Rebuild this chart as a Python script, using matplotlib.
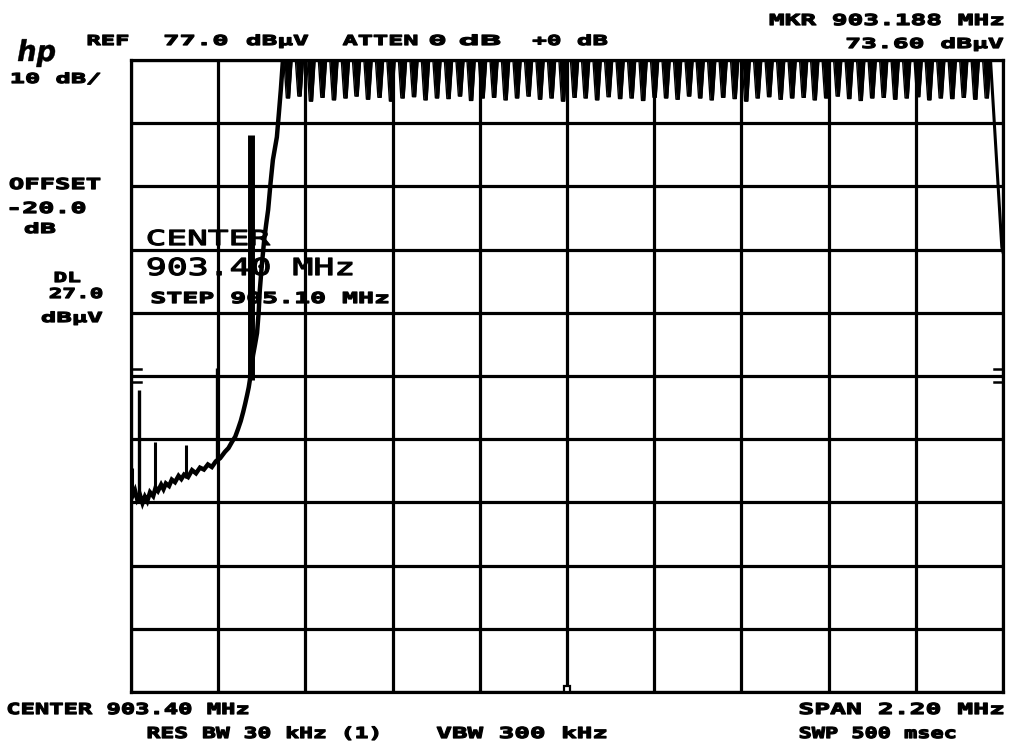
import numpy as np
import matplotlib
matplotlib.use('Agg')
import matplotlib.pyplot as plt
import matplotlib.patheffects as pe
from matplotlib.transforms import Affine2D

W, H = 1009, 742

# --- analyser settings
ref_level = 77.0      # dBuV, top graticule line
db_per_div = 10.0
center_mhz = 903.40
span_mhz = 2.20
dl_level = 27.0

# --- noise floor and rising skirt (MHz, dBuV)
floor_freq = [902.300, 902.305, 902.310, 902.316, 902.323, 902.329, 902.335,
              902.341, 902.348, 902.356, 902.362, 902.368, 902.376, 902.382,
              902.388, 902.396, 902.403, 902.411, 902.420, 902.427, 902.434,
              902.444, 902.454, 902.464, 902.474, 902.484, 902.494, 902.504,
              902.514, 902.525, 902.537, 902.546, 902.555, 902.563, 902.570,
              902.577, 902.583, 902.588, 902.593, 902.597, 902.600, 902.604,
              902.608, 902.613, 902.618, 902.622, 902.625, 902.630, 902.636,
              902.641, 902.646, 902.652, 902.658, 902.663, 902.668, 902.673,
              902.678, 902.683]
floor_level = [9.6, 8.2, 8.9, 7.4, 8.1, 6.9, 7.9, 7.2, 8.6, 8.0, 9.3, 8.8,
               9.8, 9.1, 10.0, 9.6, 10.6, 10.2, 11.2, 10.7, 11.4, 11.0, 12.1,
               11.6, 12.5, 12.2, 13.0, 12.6, 13.5, 14.0, 15.0, 15.6, 16.6,
               17.4, 18.6, 19.9, 21.3, 22.6, 24.0, 25.2, 26.4, 28.3, 30.3,
               32.0, 33.8, 37.0, 40.6, 44.5, 48.5, 51.0, 53.3, 57.5, 61.2,
               63.0, 64.8, 68.5, 72.3, 76.7]

# --- discrete spurs below the band edge
spur_freq = [902.303, 902.320, 902.361, 902.439, 902.517, 902.603]
spur_base = [9.0, 7.7, 9.0, 10.9, 13.4, 26.4]
spur_top = [12.5, 24.8, 16.6, 16.1, 28.3, 65.1]
spur_width = [2.2, 2.4, 2.2, 2.2, 2.4, 5.0]

# --- in-band channel comb: dip centres and dip levels
comb_freq = [902.696, 902.725, 902.754, 902.783, 902.812, 902.841, 902.869,
             902.898, 902.927, 902.956, 902.985, 903.014, 903.043, 903.072,
             903.101, 903.130, 903.158, 903.187, 903.216, 903.245, 903.274,
             903.303, 903.332, 903.361, 903.390, 903.419, 903.447, 903.476,
             903.505, 903.534, 903.563, 903.592, 903.621, 903.650, 903.679,
             903.708, 903.736, 903.765, 903.794, 903.823, 903.852, 903.881,
             903.910, 903.939, 903.968, 903.997, 904.025, 904.054, 904.083,
             904.112, 904.141, 904.170, 904.199, 904.228, 904.257, 904.286,
             904.314, 904.343, 904.372, 904.401, 904.430, 904.459]
comb_dip = [71.0, 71.3, 70.5, 71.1, 70.7, 71.0, 71.3, 70.8, 71.1, 70.5,
            71.0, 71.2, 70.7, 71.0, 70.9, 71.3, 70.6, 71.0, 71.1, 70.7,
            71.0, 71.3, 70.8, 71.0, 70.5, 71.1, 71.0, 70.7, 71.2, 70.9,
            71.0, 70.6, 71.1, 71.0, 70.8, 71.3, 71.0, 70.7, 71.1, 70.9,
            70.5, 71.0, 71.2, 70.8, 71.0, 71.1, 70.7, 71.0, 71.3, 70.9,
            70.6, 71.0, 71.1, 70.8, 71.0, 71.2, 70.7, 71.0, 70.9, 71.1,
            70.8, 71.0]

# --- upper band edge
edge_freq = [904.468, 904.497, 904.500]
edge_level = [77.5, 47.4, 46.6]


class FitWidth(pe.AbstractPathEffect):
    """ stretch a text path sideways so the ink runs from x0 to x1 (pixels),
    with a thin outline to fatten the strokes """

    def __init__(self, x0, x1, lw):
        super().__init__()
        self.x0, self.x1, self.lw = x0, x1, lw

    def draw_path(self, renderer, gc, tpath, affine, rgbFace=None):
        ext = tpath.get_extents(affine)
        sx = (self.x1 - self.x0) / max(ext.width, 1e-6)
        t = affine + Affine2D().translate(-ext.x0, 0).scale(sx, 1).translate(self.x0, 0)
        gc0 = renderer.new_gc()
        gc0.copy_properties(gc)
        gc0.set_linewidth(self.lw)
        gc0.set_foreground('k')
        renderer.draw_path(gc0, tpath, t, rgbFace)
        gc0.restore()


def crt_text(target, s, x0, x1, base, cap, weight='bold',
             family='DejaVu Sans Mono', style='normal', lw=0.9, zorder=3):
    """ place a label so its caps are `cap` px tall on baseline `base` """
    size_px = cap / 0.729
    target.text(x0 / W, 1 - base / H, s, transform=fig.transFigure,
                fontsize=size_px * 72 / 100, fontweight=weight, family=family,
                style=style, ha='left', va='baseline', color='k',
                path_effects=[FitWidth(x0, x1, lw)], zorder=zorder)


fig = plt.figure(figsize=(W / 100, H / 100), dpi=100)
fig.patch.set_facecolor('white')
ax = fig.add_axes((131 / W, 50 / H, 872 / W, 632 / H))

f0 = center_mhz - span_mhz / 2
f1 = center_mhz + span_mhz / 2
bottom = ref_level - 10 * db_per_div
ax.set_xlim(f0, f1)
ax.set_ylim(bottom, ref_level)
ax.set_xticks(np.linspace(f0, f1, 11))
ax.set_yticks(np.linspace(bottom, ref_level, 11))
ax.grid(True, color='k', lw=2.3)
ax.tick_params(length=0, labelbottom=False, labelleft=False)
for sp in ax.spines.values():
    sp.set_linewidth(2.3)

# --- trace
ax.plot(floor_freq, floor_level, color='k', lw=3.2, zorder=4,
        solid_joinstyle='miter')
ax.vlines(spur_freq, spur_base, spur_top, colors='k', lw=spur_width, zorder=4)

top = ref_level + 2
cx, cy = [floor_freq[-1]], [top]
for f, d in zip(comb_freq, comb_dip):
    cx += [f - 0.0125, f - 0.004, f + 0.004, f + 0.0125]
    cy += [top, d, d, top]
ax.fill_between(cx, cy, top, color='k', lw=0, zorder=4)
ax.plot(cx, cy, color='k', lw=1.0, zorder=4)
ax.plot(edge_freq, edge_level, color='k', lw=2.2, zorder=4)

# --- display line markers on both edges
for yy in (dl_level + 1.1, dl_level - 1.0):
    ax.plot([0, 0.012], [yy, yy], transform=ax.get_yaxis_transform(),
            color='k', lw=1.8, zorder=4, clip_on=False)
    ax.plot([0.99, 1.0], [yy, yy], transform=ax.get_yaxis_transform(),
            color='k', lw=1.8, zorder=4, clip_on=False)

# --- centre marker
ax.plot([center_mhz], [bottom + 0.4], marker='s', ms=5, mfc='white',
        mec='k', mew=1.6, zorder=5, clip_on=False)

# --- annotation block
crt_text(fig, 'hp', 18, 55, 61, 21, weight='bold', family='DejaVu Sans',
         style='italic', lw=0.3)
crt_text(fig, 'REF', 88, 128, 45, 10)
crt_text(fig, '77.0', 165, 227, 45, 10)
crt_text(fig, 'dBµV', 247, 308, 45, 10)
crt_text(fig, 'ATTEN', 343, 417, 45, 10)
crt_text(fig, '0', 430, 445, 45, 10)
crt_text(fig, 'dB', 460, 500, 45, 10)
crt_text(fig, '+0', 533, 560, 45, 10)
crt_text(fig, 'dB', 578, 607, 45, 10)
crt_text(fig, 'MKR 903.188 MHz', 770, 1003, 25, 11)
crt_text(fig, '73.60 dBµV', 847, 1003, 48, 10)

crt_text(fig, '10 dB/', 12, 100, 83, 10)
crt_text(fig, 'OFFSET', 10, 100, 189, 11)
crt_text(fig, '-20.0', 10, 85, 213, 11)
crt_text(fig, 'dB', 25, 55, 233, 10)
crt_text(fig, 'DL', 55, 80, 282, 10)
crt_text(fig, '27.0', 50, 102, 298, 10)
crt_text(fig, 'dBµV', 42, 102, 322, 10)

crt_text(ax, 'CENTER', 148, 270, 245, 15, weight='normal', lw=0.9, zorder=2)
crt_text(ax, '903.40 MHz', 148, 352, 275, 17, weight='normal', lw=0.9, zorder=2)
crt_text(ax, 'STEP 905.10 MHz', 152, 388, 303, 11, zorder=2)

crt_text(fig, 'CENTER 903.40 MHz', 8, 248, 714, 11)
crt_text(fig, 'SPAN 2.20 MHz', 800, 1003, 714, 11)
crt_text(fig, 'RES BW 30 kHz (1)', 148, 378, 738, 11)
crt_text(fig, 'VBW 300 kHz', 437, 606, 738, 11)
crt_text(fig, 'SWP 500 msec', 800, 955, 738, 11)

fig.savefig('out.png', dpi=100)
